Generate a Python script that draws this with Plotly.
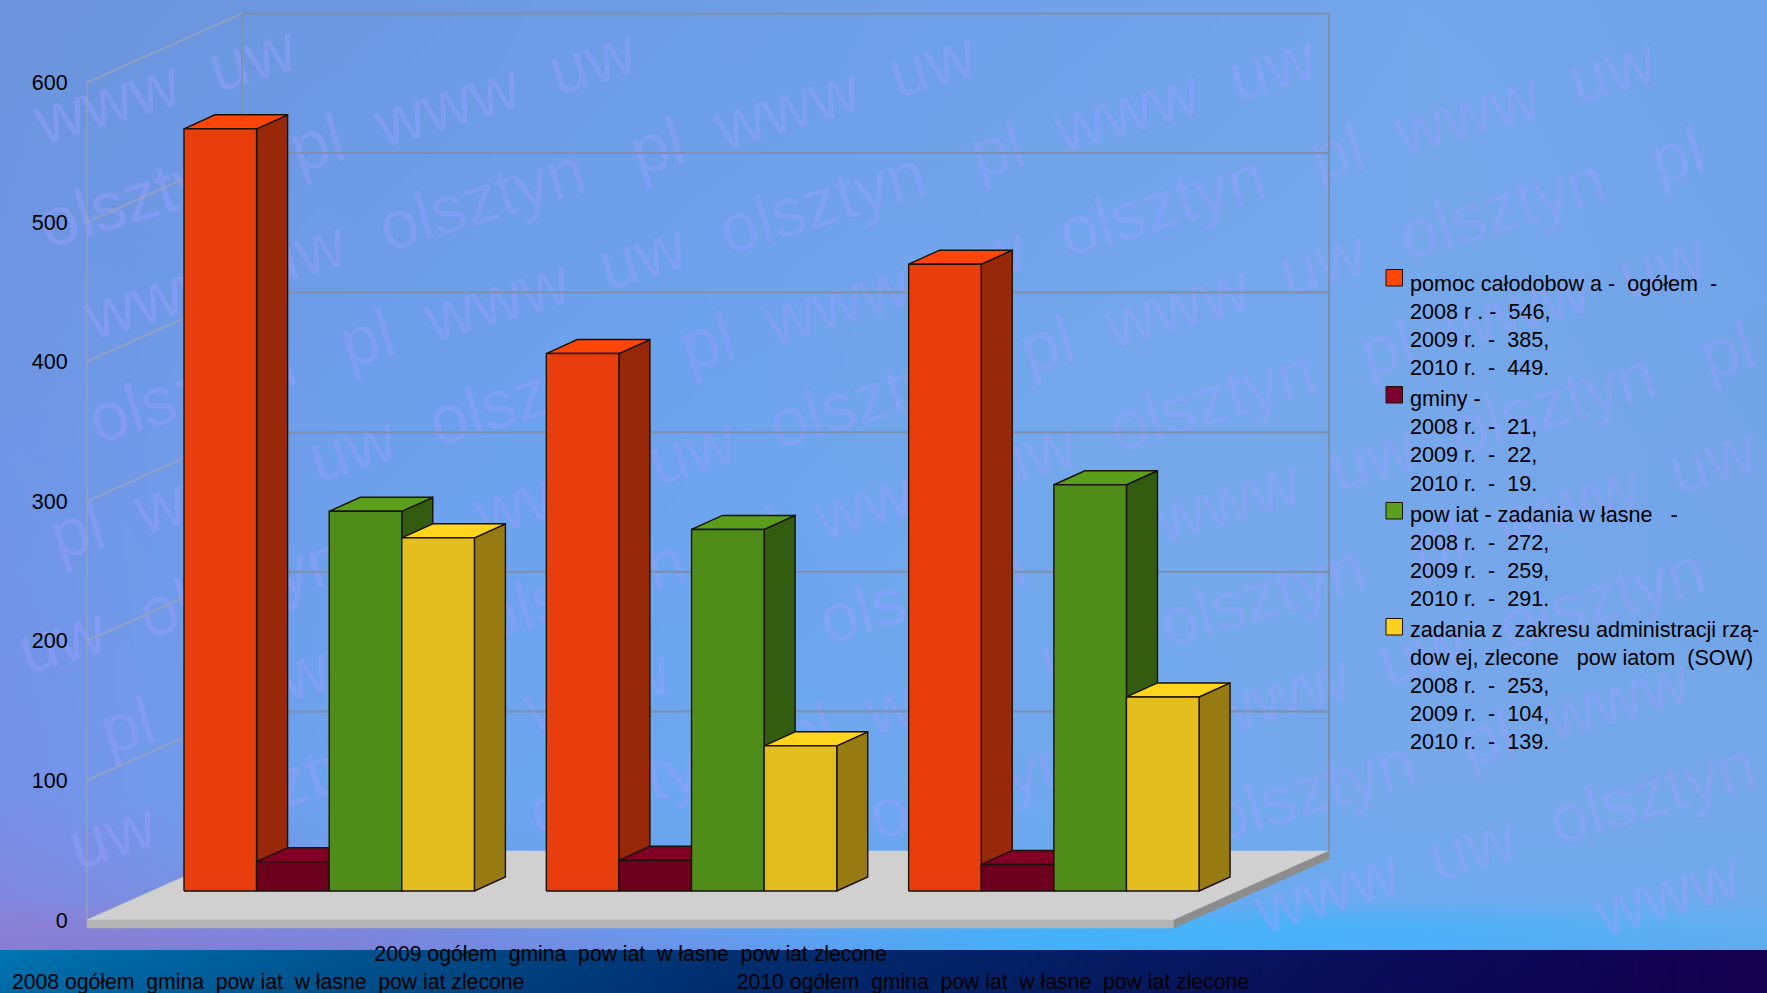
import base64, math, struct, zlib
import numpy as np
import plotly.graph_objects as go

# ---------- data ----------
years = ["2008", "2009", "2010"]
pomoc = [546, 385, 449]
gminy = [21, 22, 19]
powiat_wlasne = [272, 259, 291]
powiat_zlecone = [253, 104, 139]
y_ticks = [0, 100, 200, 300, 400, 500, 600]
cat_labels = [
    "&nbsp;<br>2008 ogółem  gmina  pow iat  w łasne  pow iat zlecone",
    "2009 ogółem  gmina  pow iat  w łasne  pow iat zlecone<br>&nbsp;",
    "&nbsp;<br>2010 ogółem  gmina  pow iat  w łasne  pow iat zlecone",
]
legend_names = [
    "pomoc całodobow a -  ogółem  -<br>2008 r . -  546,<br>2009 r.  -  385,<br>2010 r.  -  449.",
    "gminy -<br>2008 r.  -  21,<br>2009 r.  -  22,<br>2010 r.  -  19.",
    "pow iat - zadania w łasne   -<br>2008 r.  -  272,<br>2009 r.  -  259,<br>2010 r.  -  291.",
    "zadania z  zakresu administracji rzą-<br>dow ej, zlecone   pow iatom  (SOW)<br>2008 r.  -  253,<br>2009 r.  -  104,<br>2010 r.  -  139.",
]
watermark_words = ["www", "uw", "olsztyn", "pl"]

# ---------- geometry ----------
W, H = 1767, 993
PX_X = 362.33   # px per category
PX_Y = 1.396    # px per value unit
X0_PX, Y0_PX = 87, 920
x_range = [-X0_PX / PX_X, (W - X0_PX) / PX_X]
y_range = [-(H - Y0_PX) / PX_Y, Y0_PX / PX_Y]
DX, DY = 155 / PX_X, 69 / PX_Y        # wall depth
FT = 8 / PX_Y                         # floor thickness
BAR_W = 72.6 / PX_X
BDX, BDY = 31 / PX_X, 14 / PX_Y       # bar depth
BAR_X0 = (184 - X0_PX) / PX_X
BAR_Y0 = 29 / PX_Y

series = [
    (pomoc, "#E83D0C", "#98280A", "#FF4508", "#FF4508"),
    (gminy, "#6E001F", "#4A0015", "#820026", "#7B0030"),
    (powiat_wlasne, "#508C19", "#345C10", "#5A9E1C", "#5AA01C"),
    (powiat_zlecone, "#E4BE1E", "#987A12", "#FFD41C", "#FFD020"),
]

# ---------- background ----------
xa = np.array([0, .2, .4, .6, .8, 1.0])
ya = np.array([0, .45, .80, .905, .93, .9562, .9567, 1.0])
grid = np.array([
    [[108,148,222],[108,152,226],[110,158,232],[112,162,235],[116,166,235],[112,165,235]],
    [[112,150,230],[110,160,235],[110,165,238],[116,168,235],[118,168,235],[115,165,232]],
    [[118,145,232],[108,165,238],[108,168,240],[112,168,238],[118,168,235],[115,168,232]],
    [[130,135,222],[112,155,232],[105,165,240],[105,170,240],[110,170,238],[112,170,235]],
    [[140,130,215],[125,135,222],[100,160,240],[70,180,250],[80,178,248],[100,175,240]],
    [[135,125,210],[125,130,218],[105,150,235],[65,178,250],[75,175,248],[98,172,238]],
    [[0,118,178],[0,85,145],[2,50,115],[5,30,100],[12,12,90],[20,0,80]],
    [[0,105,165],[0,78,135],[0,45,110],[5,28,95],[12,10,85],[20,0,78]],
], dtype=float)
h, w = H, 884
u = np.linspace(0, 1, w)
cols = np.stack([[np.interp(u, xa, grid[r, :, c]) for c in range(3)] for r in range(len(ya))])
v = (np.arange(h) + .5) / h
img = np.zeros((h, w, 3), dtype=np.uint8)
for c in range(3):
    for i in range(w):
        img[:, i, c] = np.interp(v, ya, cols[:, c, i]).astype(np.uint8)
raw = b"".join(b"\x00" + img[r].tobytes() for r in range(h))
def chunk(t, d):
    return struct.pack(">I", len(d)) + t + d + struct.pack(">I", zlib.crc32(t + d) & 0xffffffff)
png = (b"\x89PNG\r\n\x1a\n" + chunk(b"IHDR", struct.pack(">IIBBBBB", w, h, 8, 2, 0, 0, 0))
       + chunk(b"IDAT", zlib.compress(raw, 9)) + chunk(b"IEND", b""))
bg_src = "data:image/png;base64," + base64.b64encode(png).decode()

fig = go.Figure()

def poly(xs, ys, fill=None, line="#1A1208", lw=1.4):
    fig.add_trace(go.Scatter(
        x=xs, y=ys, mode="lines", fill="toself" if fill else "none",
        fillcolor=fill, line=dict(color=line, width=lw),
        hoverinfo="skip", showlegend=False))

# walls and gridlines
GRID = "#7F8EAC"
SIDE = "#98A2B8"
for t in y_ticks:
    poly([0, DX], [t, t + DY], line=SIDE, lw=1.6)
    if t > 0:
        poly([DX, 3 + DX], [t + DY, t + DY], line=GRID, lw=2)
poly([0, 0], [0, y_ticks[-1]], line=SIDE, lw=1.2)
poly([DX, DX], [DY, y_ticks[-1] + DY], line=GRID, lw=1.6)
poly([3 + DX, 3 + DX], [DY, y_ticks[-1] + DY], line=GRID, lw=2)

# floor
poly([0, 3, 3 + DX, DX, 0], [0, 0, DY, DY, 0], fill="#D0D0D0", line="#D0D0D0", lw=.5)
poly([0, 3, 3, 0, 0], [0, 0, -FT, -FT, 0], fill="#B4B4B4", line="#B4B4B4", lw=.5)
poly([3, 3 + DX, 3 + DX, 3, 3], [0, DY, DY - FT, -FT, 0], fill="#8C8C8C", line="#8C8C8C", lw=.5)

# bars, painted back-to-front from left to right
for g in range(len(years)):
    for s, (vals, front, side, top, _) in enumerate(series):
        x0 = g + BAR_X0 + s * BAR_W
        x1 = x0 + BAR_W
        y0 = BAR_Y0
        y1 = BAR_Y0 + vals[g]
        poly([x1, x1 + BDX, x1 + BDX, x1, x1], [y0, y0 + BDY, y1 + BDY, y1, y0], fill=side)
        poly([x0, x1, x1 + BDX, x0 + BDX, x0], [y1, y1, y1 + BDY, y1 + BDY, y1], fill=top)
        poly([x0, x1, x1, x0, x0], [y0, y0, y1, y1, y0], fill=front)

# legend entries (text only; plotly centres the symbol on a multi-line entry,
# so the symbols are layout rectangles next to each entry's first line)
for name in legend_names:
    fig.add_trace(go.Scatter(
        x=[None], y=[None], mode="markers", name=name,
        marker=dict(symbol="square", size=2, color="rgba(0,0,0,0)"),
        hoverinfo="skip"))

shapes = []
LEG_BOTTOM = [286, 403, 519, 635]
LEG_SW_X, LEG_SW = 1386, 16.5
for py, (_, _, _, _, swatch) in zip(LEG_BOTTOM, series):
    shapes.append(dict(type="rect", xref="paper", yref="paper", layer="above",
                       x0=LEG_SW_X / W, x1=(LEG_SW_X + LEG_SW) / W,
                       y0=1 - py / H, y1=1 - (py - LEG_SW) / H,
                       fillcolor=swatch, line=dict(color="#1A1208", width=1)))

# watermark words laid along tilted rows, behind everything
WM_SIZE, WM_SLOPE = 68, 0.30
WM_ANGLE = math.atan(WM_SLOPE)
WM_OFFS = [0, 145, 325, 500]
WM_EM = [2.17, 1.28, 3.11, .78]
for k in range(-5, 16):
    for n in range(-6, 6):
        xc = 105 + k * 340 + n * 630
        for word, off, em in zip(watermark_words, WM_OFFS, WM_EM):
            px = xc + off
            py = 95 + k * 105 - WM_SLOPE * (px - 105)
            half = em * WM_SIZE / 2
            ex = half * math.cos(WM_ANGLE) + .45 * WM_SIZE * math.sin(WM_ANGLE)
            ey = half * math.sin(WM_ANGLE) + .45 * WM_SIZE * math.cos(WM_ANGLE)
            if px - ex < 0 or px + ex > W or py - ey < 0 or py + ey > 950:
                continue
            shapes.append(dict(
                type="line", xref="paper", yref="paper", layer="below",
                x0=(px - 1) / W, x1=(px + 1) / W, y0=1 - py / H, y1=1 - py / H,
                line=dict(width=0, color="rgba(0,0,0,0)"),
                label=dict(text=word, textangle=-math.degrees(WM_ANGLE), textposition="middle",
                           xanchor="center", yanchor="middle",
                           font=dict(family="Liberation Sans", size=WM_SIZE,
                                     color="rgba(150,160,252,0.45)")),
            ))

fig.update_layout(
    width=W, height=H, autosize=False,
    margin=dict(l=0, r=0, t=0, b=0, pad=0, autoexpand=False),
    paper_bgcolor="#6E9EE6", plot_bgcolor="rgba(0,0,0,0)",
    font=dict(family="Liberation Sans", size=21, color="#000000"),
    images=[dict(source=bg_src, xref="paper", yref="paper", x=0, y=1, sizex=1, sizey=1,
                 sizing="stretch", layer="below", xanchor="left", yanchor="top")],
    shapes=shapes,
    xaxis=dict(range=x_range, domain=[0, 1], anchor="free", position=(H - 939) / H,
               tickmode="array", tickvals=[.5, 1.5, 2.5], ticktext=cat_labels,
               ticks="", showgrid=False, zeroline=False, showline=False,
               tickangle=0, automargin=False, tickfont=dict(size=21.2)),
    yaxis=dict(range=y_range, domain=[0, 1], anchor="free", position=X0_PX / W,
               tickmode="array", tickvals=y_ticks, ticks="outside", ticklen=15,
               tickcolor="rgba(0,0,0,0)", tickwidth=0,
               showgrid=False, zeroline=False, showline=False, automargin=False,
               tickfont=dict(size=21.5)),
    legend=dict(x=(1410 - 40) / W, xanchor="left", y=1 - 262 / H, yanchor="top",
                bgcolor="rgba(0,0,0,0)", borderwidth=0, itemsizing="trace",
                font=dict(size=21.6), traceorder="normal", itemclick=False, itemdoubleclick=False),
)
fig.write_html("out.html", config=dict(displayModeBar=False),
               post_script="document.body.style.margin='0';document.body.style.overflow='hidden';")
